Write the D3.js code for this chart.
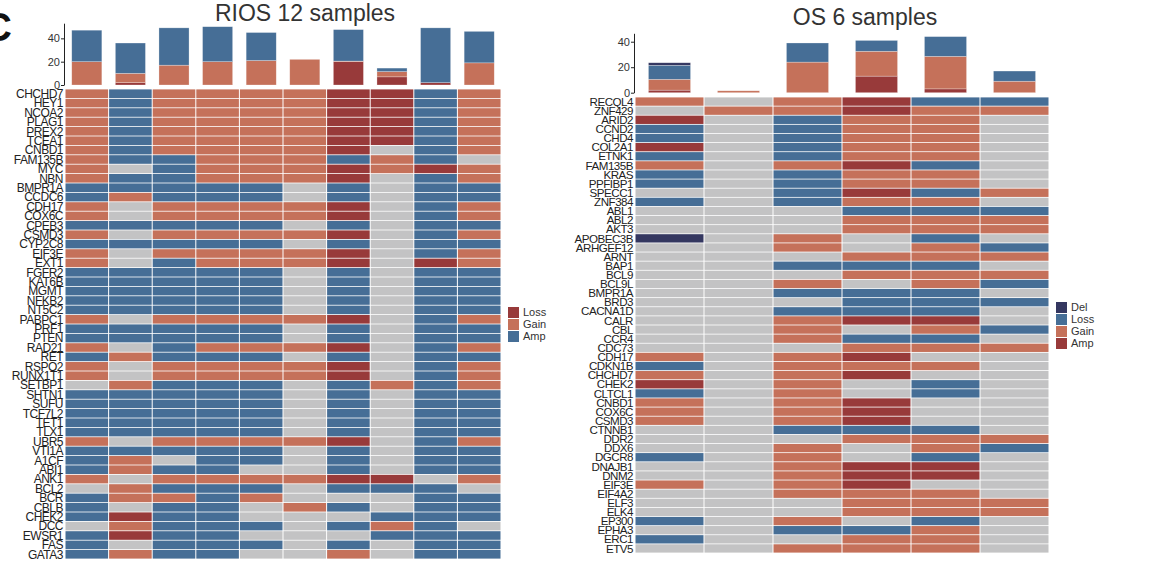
<!DOCTYPE html>
<html>
<head>
<meta charset="utf-8">
<script src="https://cdn.jsdelivr.net/npm/d3@7"></script>
<style>
  body { margin: 0; background: #fff; }
  svg { display: block; font-family: 'Liberation Sans', Arial, sans-serif; }
</style>
</head>
<body>
<svg id="chart" width="1153" height="562"></svg>
<script>
// ---- RIOS panel data ----
const riosGenes = ['CHCHD7', 'HEY1', 'NCOA2', 'PLAG1', 'PREX2', 'TCEA1', 'CNBD1', 'FAM135B', 'MYC', 'NBN',
  'BMPR1A', 'CCDC6', 'CDH17', 'COX6C', 'CPEB3', 'CSMD3', 'CYP2C8', 'EIF3E', 'EXT1', 'FGFR2',
  'KAT6B', 'MGMT', 'NFKB2', 'NT5C2', 'PABPC1', 'PRF1', 'PTEN', 'RAD21', 'RET', 'RSPO2',
  'RUNX1T1', 'SETBP1', 'SHTN1', 'SUFU', 'TCF7L2', 'TET1', 'TLX1', 'UBR5', 'VTI1A', 'A1CF',
  'ABI1', 'ANK1', 'BCL2', 'BCR', 'CBLB', 'CHEK2', 'DCC', 'EWSR1', 'FAS', 'GATA3']
// one string per gene, one letter per sample: L = Loss, G = Gain, A = Amp, N = none
const riosCalls = ['GAGGGGLLAG', 'GAGGGGLLAG', 'GAGGGGLLAG', 'GAGGGGLLAG', 'GAGGGGLLAG', 'GAGGGGLLAG',
  'GAGGGGLNAG', 'GAAGGGAGAN', 'GNAGGGLGLG', 'GAAGGGLNAG',
  'AAAAANANAA', 'AGAAANANAA', 'GNGGGGLNAG', 'GNGGGGLNAG', 'AAAAANANAA', 'GNGGGGLNAG',
  'AAAAANANAA', 'GNGGGGLNAG', 'GNAGGGLNLG', 'AAAAANANAA',
  'AAAAANANAA', 'AAAAANANAA', 'AAAAANANAA', 'AAAAANANAA', 'GNGGGGLNAG', 'AAAAANANAA',
  'AAAAANANAA', 'GNAGGGLNAG', 'AGAAANANAA', 'GNGGGGLNAG',
  'GNGGGGLNAG', 'NGAAANAGAG', 'AAAAANANAA', 'AAAAANANAA', 'AAAAANANAA', 'AAAAANANAA',
  'AAAAANANAA', 'GNGGGGLNAG', 'AAAAANANAA', 'AGNAANANAA',
  'AGAANNANAA', 'GNGGGGLLNG', 'NGAAANAAAN', 'AGGAGNNNAA', 'ANAANGANAA', 'ALAANNNAAA',
  'NGAAANAGAN', 'ALAANNNAAA', 'ANAAANANAA', 'AGAANNGNAA']
const riosLoss = [0, 2, 0, 0, 0, 0, 20, 7, 2, 0]
const riosGain = [20, 8, 17, 20, 21, 22, 0.5, 4.5, 0, 19]
const riosAmp = [27, 26, 32, 30, 24, 0, 27, 3, 47, 27]

// ---- OS panel data ----
const osGenes = ['RECQL4', 'ZNF429', 'ARID2', 'CCND2', 'CHD4', 'COL2A1', 'ETNK1', 'FAM135B', 'KRAS', 'PPFIBP1',
  'SPECC1', 'ZNF384', 'ABL1', 'ABL2', 'AKT3', 'APOBEC3B', 'ARHGEF12', 'ARNT', 'BAP1', 'BCL9',
  'BCL9L', 'BMPR1A', 'BRD3', 'CACNA1D', 'CALR', 'CBL', 'CCR4', 'CDC73', 'CDH17', 'CDKN1B',
  'CHCHD7', 'CHEK2', 'CLTCL1', 'CNBD1', 'COX6C', 'CSMD3', 'CTNNB1', 'DDR2', 'DDX6', 'DGCR8',
  'DNAJB1', 'DNM2', 'EIF3E', 'EIF4A2', 'ELF3', 'ELK4', 'EP300', 'EPHA3', 'ERC1', 'ETV5']
// D = Del, L = Loss, G = Gain, A = Amp, N = none
const osCalls = ['GNGALL', 'NGGAGG', 'ANLGGN', 'LNLGGN', 'LNLGGN', 'ANLGGN', 'LNLGGN', 'GNGALN', 'LNLGGN', 'LNLGGN',
  'NNLALG', 'LNLGGN', 'NNNLLL', 'NNNGGG', 'NNNGGG', 'DNGNLN', 'NNGNGL', 'NNNGGG', 'NNLLLN', 'NNNGGG',
  'NNGNGL', 'NNLLLN', 'NNNLLL', 'NNLLLN', 'NNGAAN', 'NNGNGL', 'NNGLLN', 'NNNGGG', 'GNGANN', 'LNGGGN',
  'GNGANN', 'ANGNLN', 'LNGNLN', 'GNGANN', 'GNGANN', 'GNGANN', 'NNLLLN', 'NNNGGG', 'NNGNGL', 'LNGNLN',
  'NNGAAN', 'NNGAAN', 'GNGANN', 'NNGGGN', 'NNNGGG', 'NNNGGG', 'LNGNLN', 'NNLLGN', 'LNNGGN', 'NNGGGN']
const osDel = [2, 0, 0, 0, 0, 0]
const osLoss = [11, 0, 15, 8.5, 15.5, 8]
const osGain = [8.5, 1.5, 24, 19.5, 25.5, 9]
const osAmp = [2, 0, 0, 13, 3, 0]

const tickValues = [0, 20, 40]

const GREY = '#c3c3c4'
const BLUE = '#466e96'
const SALMON = '#c5715a'
const DARKRED = '#983a3a'
const NAVY = '#343760'

const svg = d3.select('#chart')

/**
 * Draws one panel: stacked bars on top, calls heatmap below and a legend.
 *
 * @param {object} p The panel settings
 */
function drawPanel (p) {
  const g = svg.append('g')
  const n = p.calls[0].length
  const samples = d3.range(n)

  const x = d3.scaleBand().domain(samples).range(p.xRange)
  const xBar = d3.scaleBand().domain(samples).range(p.xRange)
    .paddingInner(p.barPad).paddingOuter(p.barPad / 2)
  const y = d3.scaleBand().domain(p.genes).range(p.yRange)
  const yBar = d3.scaleLinear().domain([0, p.barMax]).range(p.barRange)

  // title
  g.append('text')
    .attr('x', p.titleX).attr('y', p.titleY)
    .attr('text-anchor', 'middle')
    .style('font-size', '23px').style('fill', '#333')
    .text(p.title)

  // stacked bars
  const rows = samples.map(i => {
    const o = { sample: i }
    p.series.forEach(s => { o[s.name] = s.values[i] })
    return o
  })
  const stack = d3.stack().keys(p.series.map(s => s.name))(rows)
  g.selectAll('.layer')
    .data(stack)
    .enter()
    .append('g')
    .attr('class', 'layer')
    .style('fill', d => p.colors[d.key])
    .selectAll('rect')
    .data(d => d)
    .enter()
    .append('rect')
    .attr('x', d => xBar(d.data.sample))
    .attr('y', d => yBar(d[1]))
    .attr('width', xBar.bandwidth())
    .attr('height', d => yBar(d[0]) - yBar(d[1]))
    .style('stroke', 'rgba(255,255,255,0.45)')
    .style('stroke-width', 0.6)

  const axis = g.append('g')
    .attr('transform', `translate(${p.xRange[0] - 1},0)`)
    .call(d3.axisLeft(yBar).tickValues(tickValues).tickSize(3).tickSizeOuter(0).tickPadding(1))
  axis.select('.domain').style('stroke', '#222')
  axis.selectAll('.tick line').style('stroke', '#222')
  axis.selectAll('.tick text').style('font-size', '11px').style('fill', '#333')
    .style('font-family', "'Liberation Sans', Arial, sans-serif")

  // heatmap cells
  const cells = p.genes.flatMap((gene, r) =>
    p.calls[r].split('').map((c, i) => ({ gene, sample: i, type: p.codes[c] })))
  g.selectAll('.cell')
    .data(cells)
    .enter()
    .append('rect')
    .attr('class', 'cell')
    .attr('x', d => x(d.sample) + 0.5)
    .attr('y', d => y(d.gene) + 0.4)
    .attr('width', x.bandwidth() - 1)
    .attr('height', y.bandwidth() - 0.8)
    .style('fill', d => d.type === 'None' ? GREY : p.colors[d.type])

  // gene labels
  g.selectAll('.gene')
    .data(p.genes)
    .enter()
    .append('text')
    .attr('class', 'gene')
    .attr('x', p.xRange[0] - 2)
    .attr('y', d => y(d) + y.bandwidth() / 2)
    .attr('dy', '0.36em')
    .attr('text-anchor', 'end')
    .style('font-size', p.labelSize)
    .style('letter-spacing', '-0.5px')
    .style('fill', '#222')
    .text(d => d)

  // legend
  const leg = g.selectAll('.legend')
    .data(p.legend)
    .enter()
    .append('g')
    .attr('class', 'legend')
    .attr('transform', (d, i) => `translate(${p.legendX},${p.legendY + i * 12})`)
  leg.append('rect')
    .attr('width', 11).attr('height', 11)
    .style('fill', d => p.colors[d])
  leg.append('text')
    .attr('x', 15).attr('y', 5.5).attr('dy', '0.36em')
    .style('font-size', '11px').style('fill', '#333')
    .text(d => d)
}

// panel letter
svg.append('text')
  .attr('x', -17).attr('y', 41)
  .style('font-size', '40px').style('font-weight', 'bold').style('fill', '#111')
  .text('C')

drawPanel({
  title: 'RIOS 12 samples',
  titleX: 305,
  titleY: 21,
  genes: riosGenes,
  calls: riosCalls,
  codes: { L: 'Loss', G: 'Gain', A: 'Amp', N: 'None' },
  colors: { Loss: DARKRED, Gain: SALMON, Amp: BLUE },
  series: [
    { name: 'Loss', values: riosLoss },
    { name: 'Gain', values: riosGain },
    { name: 'Amp', values: riosAmp }
  ],
  legend: ['Loss', 'Gain', 'Amp'],
  xRange: [65, 501],
  yRange: [89, 559],
  barPad: 0.31,
  barMax: 53,
  barRange: [85, 23.2],
  labelSize: '12px',
  legendX: 508,
  legendY: 307
})

drawPanel({
  title: 'OS 6 samples',
  titleX: 865,
  titleY: 25,
  genes: osGenes,
  calls: osCalls,
  codes: { D: 'Del', L: 'Loss', G: 'Gain', A: 'Amp', N: 'None' },
  colors: { Del: NAVY, Loss: BLUE, Gain: SALMON, Amp: DARKRED },
  series: [
    { name: 'Amp', values: osAmp },
    { name: 'Gain', values: osGain },
    { name: 'Loss', values: osLoss },
    { name: 'Del', values: osDel }
  ],
  legend: ['Del', 'Loss', 'Gain', 'Amp'],
  xRange: [635, 1049],
  yRange: [97, 553],
  barPad: 0.39,
  barMax: 46.6,
  barRange: [92.7, 33.3],
  labelSize: '11.6px',
  legendX: 1056,
  legendY: 302
})
</script>
</body>
</html>
